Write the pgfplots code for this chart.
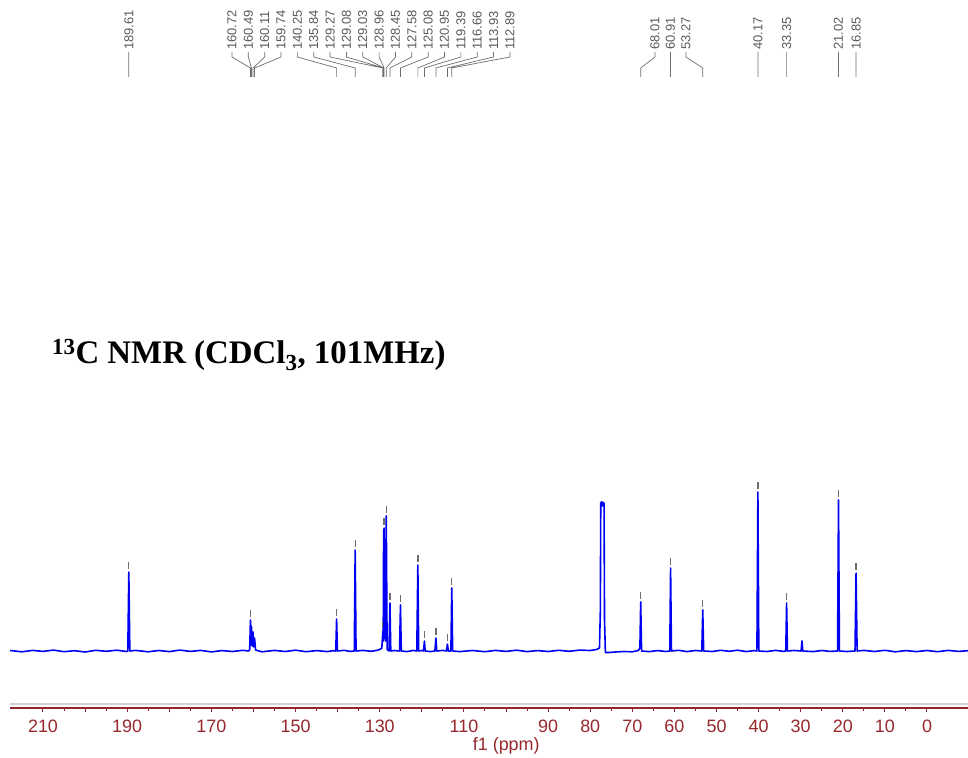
\documentclass[border=0pt]{standalone}
\usepackage{fontspec}
\setmainfont{Liberation Serif}
\newfontfamily\arial{Liberation Sans}
\usepackage{pgfplots}
\pgfplotsset{compat=1.18}
\definecolor{axred}{RGB}{150,40,45}
\definecolor{specblue}{RGB}{0,0,245}
\definecolor{lblgray}{RGB}{90,90,90}
\definecolor{lngray}{RGB}{110,110,110}
\begin{document}
\begin{tikzpicture}
\begin{axis}[at={(10bp,50bp)}, anchor=south west, scale only axis,
  width=958bp, height=708bp,
  x dir=reverse, xmin=-9.74, xmax=217.84, ymin=-57, ymax=651,
  axis x line*=bottom, axis y line=none, clip=false,
  x axis line style={axred, line width=1.3bp, -},
  xtick={0,10,...,210},
  xticklabels={0,10,20,30,40,50,60,70,80,90,,110,,130,,150,,170,,190,,210},
  minor x tick num=1, tick align=outside,
  major tick length=4bp, minor tick length=3bp,
  every tick/.style={axred, line width=1bp},
  xticklabel style={font=\arial\fontsize{18}{20}\selectfont, text=axred, inner sep=0pt, yshift=-8bp},
  xlabel={f1 (ppm)},
  xlabel style={at={(axis description cs:0.518,0)}, anchor=center, yshift=-38bp, font=\arial\fontsize{18}{20}\selectfont, text=axred},
  /pgf/number format/assume math mode=true,
  unbounded coords=jump]
% light grey line above axis
\addplot[gray!35, line width=2bp, forget plot] coordinates {(-9.74,-53) (217.84,-53)};
% spectrum
\addplot[specblue, line width=1.6bp, line join=round] coordinates {
(217.8,0.5)(215,-0.8)(212.5,0.6)(210,-0.4)(207.5,0.9)(205,-0.7)(202.5,0.3)(200,-1.0)(197.5,0.7)(195,-0.3)(192.5,0.8)(190.2,-0.5)
(189.85,0)(189.61,79)(189.37,0)
(188,0.6)(185,-0.8)(182.5,0.5)(180,-0.6)(177.5,0.9)(175,-0.4)(172.5,0.6)(170,-0.9)(167.5,0.4)(165,-0.5)(162.5,0.7)(161.2,0)
(160.9,1)(160.72,31)(160.6,6)(160.49,25)(160.3,5)(160.11,19)(159.95,4)(159.74,13)(159.5,1)
(158,-0.8)(155,0.6)(152.5,-0.5)(150,0.8)(147.5,-0.7)(145,0.4)(142.5,-0.6)(141,0.3)
(140.45,0)(140.25,32)(140.05,0)
(138.5,0.7)(137,-0.4)(136.05,0)(135.84,101)(135.63,0)
(134,0.6)(132,-0.3)(130.5,0.8)(129.8,2)
(129.5,3)(129.27,20)(129.18,10)(129.08,120)(129.03,121)(128.96,123)(128.8,15)(128.6,10)(128.45,135)(128.25,2)
(128,0.5)(127.8,0)(127.58,48)(127.38,0)(126.5,0.5)(125.3,0)(125.08,46)(124.88,0)
(123.5,-0.6)(122,0.6)(121.2,0)(120.95,86)(120.75,0)(120,0.5)(119.6,0)(119.39,10)(119.2,0)(118,-0.6)(116.9,0)(116.66,13)(116.46,0)(115,0.6)(114.15,0)(113.93,7)(113.7,0)(113.1,0)(112.89,63)(112.68,0)
(111,-0.6)(108,0.5)(105,-0.7)(102.5,0.6)(100,-0.4)(97.5,0.8)(95,-0.6)(92.5,0.4)(90,-0.5)(87.5,0.7)(85,-0.3)(82.5,0.9)(80,0.5)(78.5,1.5)(77.8,3)
(77.6,40)(77.5,148)(77.36,149)(77.2,145)(77.04,149)(76.88,145)(76.72,148)(76.6,30)(76.4,-1.5)(75.5,-1.5)(74,-1)(72,-0.5)(70,-0.8)(68.6,0.5)(68.3,2)
(68.2,3)(68.01,49)(67.8,0)(66,-0.6)(64,0.4)(62,-0.5)(61.1,0)(60.91,83)(60.7,0)(59,0.7)(57,-0.6)(55,0.5)(53.5,0)(53.27,41)(53.05,0)
(51,-0.5)(49,0.7)(47,-0.3)(45,0.8)(43,-0.6)(41,0.4)(40.4,0)(40.17,159)(39.95,0)(38,-0.5)(36,0.6)(34,-0.4)(33.55,0)(33.35,48)(33.15,0)
(31.5,0.5)(29.9,0)(29.7,10)(29.5,0)(27,-0.6)(25,0.5)(23,-0.4)(21.25,0)(21.02,151)(20.8,0)(19,-0.5)(17.1,0)(16.85,78)(16.6,0)
(15,0.6)(12.5,-0.5)(10,0.7)(7.5,-0.8)(5,0.4)(2.5,-0.6)(0,0.5)(-2.5,-0.7)(-5,0.6)(-7.5,-0.4)(-9.74,0.3)
};
% peak markers
\addplot[lngray, line width=1.3bp] coordinates {
(189.61,82)(189.61,89)(189.61,nan)
(160.72,34)(160.72,41)(160.72,nan)
(140.25,35)(140.25,42)(140.25,nan)
(135.84,104)(135.84,111)(135.84,nan)
(129.27,23)(129.27,30)(129.27,nan)
(129.0,126)(129.0,133)(129.0,nan)
(128.45,138)(128.45,145)(128.45,nan)
(127.58,51)(127.58,58)(127.58,nan)
(125.08,49)(125.08,56)(125.08,nan)
(120.95,89)(120.95,96)(120.95,nan)
(119.39,13)(119.39,20)(119.39,nan)
(116.66,16)(116.66,23)(116.66,nan)
(113.93,10)(113.93,17)(113.93,nan)
(112.89,66)(112.89,73)(112.89,nan)
(68.01,52)(68.01,59)(68.01,nan)
(60.91,86)(60.91,93)(60.91,nan)
(53.27,44)(53.27,51)(53.27,nan)
(40.17,162)(40.17,169)(40.17,nan)
(33.35,51)(33.35,58)(33.35,nan)
(21.02,154)(21.02,161)(21.02,nan)
(16.85,81)(16.85,88)
};
% label connectors
\addplot[lngray, line width=0.7bp] coordinates {
(189.61,599)(189.61,574)(189.61,nan)
(165.10,599)(165.10,594)(160.72,583)(160.72,574)(160.72,nan)
(161.22,599)(161.22,594)(160.49,583)(160.49,574)(160.49,nan)
(157.33,599)(157.33,594)(160.11,583)(160.11,574)(160.11,nan)
(153.45,599)(153.45,594)(159.74,583)(159.74,574)(159.74,nan)
(149.57,599)(149.57,594)(140.25,583)(140.25,574)(140.25,nan)
(145.68,599)(145.68,594)(135.84,583)(135.84,574)(135.84,nan)
(141.80,599)(141.80,594)(129.27,583)(129.27,574)(129.27,nan)
(137.91,599)(137.91,594)(129.08,583)(129.08,574)(129.08,nan)
(134.03,599)(134.03,594)(129.03,583)(129.03,574)(129.03,nan)
(130.15,599)(130.15,594)(128.96,583)(128.96,574)(128.96,nan)
(126.26,599)(126.26,594)(128.45,583)(128.45,574)(128.45,nan)
(122.38,599)(122.38,594)(127.58,583)(127.58,574)(127.58,nan)
(118.49,599)(118.49,594)(125.08,583)(125.08,574)(125.08,nan)
(114.61,599)(114.61,594)(120.95,583)(120.95,574)(120.95,nan)
(110.73,599)(110.73,594)(119.39,583)(119.39,574)(119.39,nan)
(106.84,599)(106.84,594)(116.66,583)(116.66,574)(116.66,nan)
(102.96,599)(102.96,594)(113.93,583)(113.93,574)(113.93,nan)
(99.07,599)(99.07,594)(112.89,583)(112.89,574)(112.89,nan)
(64.62,599)(64.62,594)(68.01,583)(68.01,574)(68.01,nan)
(60.93,599)(60.93,594)(60.91,583)(60.91,574)(60.91,nan)
(57.25,599)(57.25,594)(53.27,583)(53.27,574)(53.27,nan)
(40.17,599)(40.17,574)(40.17,nan)
(33.35,599)(33.35,574)(33.35,nan)
(21.02,599)(21.02,574)(21.02,nan)
(16.85,599)(16.85,574)
};
% peak labels
\tikzset{pl/.style={rotate=90, anchor=west, inner sep=0pt, text=lblgray, font=\arial\fontsize{13}{14}\selectfont}}
\node[pl] at (axis cs:189.61,601) {189.61};
\node[pl] at (axis cs:165.10,601) {160.72};
\node[pl] at (axis cs:161.22,601) {160.49};
\node[pl] at (axis cs:157.33,601) {160.11};
\node[pl] at (axis cs:153.45,601) {159.74};
\node[pl] at (axis cs:149.57,601) {140.25};
\node[pl] at (axis cs:145.68,601) {135.84};
\node[pl] at (axis cs:141.80,601) {129.27};
\node[pl] at (axis cs:137.91,601) {129.08};
\node[pl] at (axis cs:134.03,601) {129.03};
\node[pl] at (axis cs:130.15,601) {128.96};
\node[pl] at (axis cs:126.26,601) {128.45};
\node[pl] at (axis cs:122.38,601) {127.58};
\node[pl] at (axis cs:118.49,601) {125.08};
\node[pl] at (axis cs:114.61,601) {120.95};
\node[pl] at (axis cs:110.73,601) {119.39};
\node[pl] at (axis cs:106.84,601) {116.66};
\node[pl] at (axis cs:102.96,601) {113.93};
\node[pl] at (axis cs:99.07,601) {112.89};
\node[pl] at (axis cs:64.62,601) {68.01};
\node[pl] at (axis cs:60.93,601) {60.91};
\node[pl] at (axis cs:57.25,601) {53.27};
\node[pl] at (axis cs:40.17,601) {40.17};
\node[pl] at (axis cs:33.35,601) {33.35};
\node[pl] at (axis cs:21.02,601) {21.02};
\node[pl] at (axis cs:16.85,601) {16.85};
% title
\node[anchor=base west, inner sep=0pt, font=\bfseries\fontsize{33}{37}\selectfont] at (axis cs:207.9,287) {\textsuperscript{13}C NMR (CDCl\textsubscript{3}, 101MHz)};
\end{axis}
\pgfresetboundingbox
\path[use as bounding box] (0,0) rectangle (968bp,758bp);
\end{tikzpicture}
\end{document}
